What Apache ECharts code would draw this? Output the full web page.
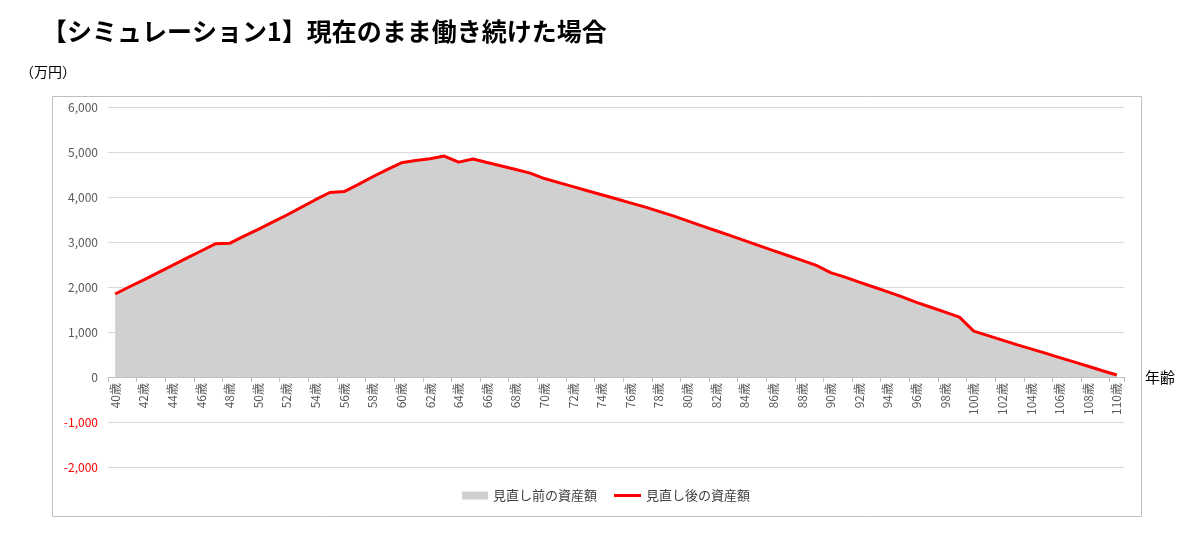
<!DOCTYPE html>
<html>
<head>
<meta charset="utf-8">
<script src="https://cdn.jsdelivr.net/npm/echarts@6/dist/echarts.min.js"></script>
<style>
html,body{margin:0;padding:0;background:#fff;}
#chart{width:1200px;height:549px;}
</style>
</head>
<body>
<div id="chart"></div>
<script>
// ---- data ----
var titleText = '【シミュレーション1】現在のまま働き続けた場合';
var yUnitLabel = '（万円）';
var xAxisName = '年齢';
var seriesNames = ['見直し前の資産額', '見直し後の資産額'];
var ages = [];
for (var a = 40; a <= 110; a++) { ages.push(a + '歳'); }
var beforeValues = [
  1845, 2005, 2160, 2320, 2480, 2640, 2800, 2960, 2970, 3130,
  3280, 3440, 3600, 3770, 3940, 4100, 4120, 4280, 4450, 4610,
  4760, 4810, 4850, 4910, 4775, 4845, 4765, 4690, 4610, 4530,
  4410, 4320, 4230, 4140, 4050, 3960, 3870, 3780, 3680, 3580,
  3470, 3360, 3250, 3140, 3030, 2920, 2810, 2700, 2590, 2480,
  2320, 2220, 2110, 2000, 1890, 1780, 1660, 1550, 1440, 1330,
  1020, 920, 820, 720, 625, 530, 430, 335, 240, 140,
  45
];
var afterValues = [
  1845, 2005, 2160, 2320, 2480, 2640, 2800, 2960, 2970, 3130,
  3280, 3440, 3600, 3770, 3940, 4100, 4120, 4280, 4450, 4610,
  4760, 4810, 4850, 4910, 4775, 4845, 4765, 4690, 4610, 4530,
  4410, 4320, 4230, 4140, 4050, 3960, 3870, 3780, 3680, 3580,
  3470, 3360, 3250, 3140, 3030, 2920, 2810, 2700, 2590, 2480,
  2320, 2220, 2110, 2000, 1890, 1780, 1660, 1550, 1440, 1330,
  1020, 920, 820, 720, 625, 530, 430, 335, 240, 140,
  45
];
var yMin = -2000, yMax = 6000, yStep = 1000;

var FONT = '"Noto Sans CJK JP", "Noto Sans", sans-serif';
var gridTop = 107, gridBottom = 82, chartH = 549;
var plotH = chartH - gridTop - gridBottom;
// move category axis up to the zero line
var zeroOffset = -plotH * (0 - yMin) / (yMax - yMin);

var chart = echarts.init(document.getElementById('chart'));
chart.setOption({
  backgroundColor: '#fff',
  animation: false,
  textStyle: { fontFamily: FONT },
  graphic: [
    { type: 'rect', left: 50, top: 94, shape: { width: 1089, height: 420 },
      style: { fill: 'none', stroke: '#bfbfbf', lineWidth: 1 }, z: -1 },
    { type: 'text', left: 42, top: 19,
      style: { text: titleText, font: 'bold 25px ' + FONT, fill: '#000' } },
    { type: 'text', left: 20, top: 65,
      style: { text: yUnitLabel, font: '14px ' + FONT, fill: '#000' } }
  ],
  legend: [
    { data: [seriesNames[0]], left: 457, top: 484, icon: 'rect',
      itemWidth: 26, itemHeight: 8, itemGap: 4,
      textStyle: { fontSize: 13, color: '#404040', fontFamily: FONT } },
    { data: [seriesNames[1]], left: 609, top: 484, icon: 'rect',
      itemWidth: 27, itemHeight: 3, itemGap: 4,
      textStyle: { fontSize: 13, color: '#404040', fontFamily: FONT } }
  ],
  grid: { left: 108, right: 76, top: gridTop, bottom: gridBottom, containLabel: false },
  xAxis: {
    type: 'category',
    data: ages,
    boundaryGap: true,
    offset: zeroOffset,
    name: xAxisName,
    nameLocation: 'end',
    nameGap: 21,
    nameTextStyle: { fontSize: 15, color: '#000', fontFamily: FONT },
    axisLine: { onZero: false, lineStyle: { color: '#bfbfbf', width: 1 } },
    axisTick: { show: true, interval: 1, length: 5, lineStyle: { color: '#bfbfbf' } },
    axisLabel: { interval: 1, rotate: 90, fontSize: 12, color: '#595959', margin: 6, fontFamily: FONT },
    splitLine: { show: false }
  },
  yAxis: {
    type: 'value',
    min: yMin, max: yMax, interval: yStep,
    axisLine: { show: false },
    axisTick: { show: false },
    axisLabel: {
      fontSize: 12, margin: 10, fontFamily: FONT,
      formatter: function (v) { return v.toLocaleString('en-US'); },
      color: function (v) { return Number(v) < 0 ? '#ff0000' : '#595959'; }
    },
    splitLine: { lineStyle: { color: '#d9d9d9', width: 1 } }
  },
  series: [
    {
      name: seriesNames[0], type: 'line', data: beforeValues,
      symbol: 'none', showSymbol: false,
      lineStyle: { width: 0, color: '#d0d0d0' },
      itemStyle: { color: '#d0d0d0' },
      areaStyle: { color: '#d0d0d0', opacity: 1 },
      z: 1
    },
    {
      name: seriesNames[1], type: 'line', data: afterValues,
      symbol: 'none', showSymbol: false,
      lineStyle: { width: 3, color: '#ff0000' },
      itemStyle: { color: '#ff0000' },
      z: 2
    }
  ]
});
</script>
</body>
</html>
